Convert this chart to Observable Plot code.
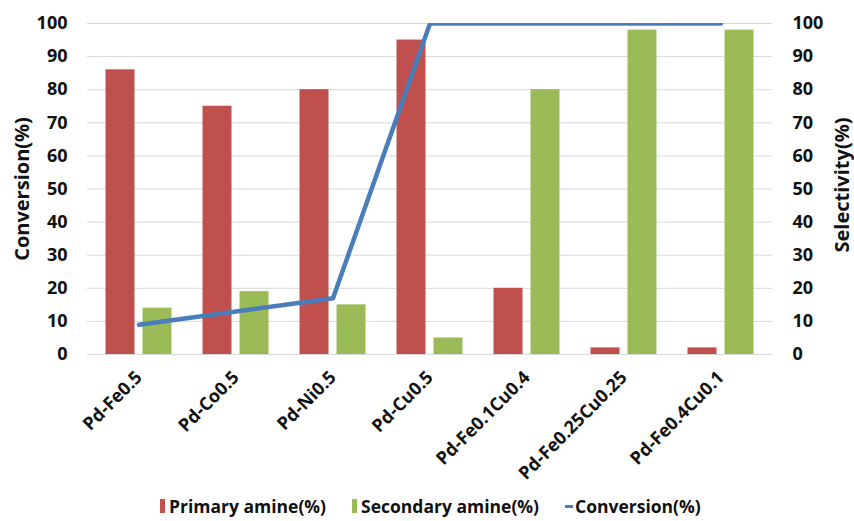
<!DOCTYPE html>
<html>
<head>
<meta charset="utf-8">
<script src="https://cdn.jsdelivr.net/npm/d3@7"></script>
<script src="https://cdn.jsdelivr.net/npm/@observablehq/plot@0.6"></script>
<style>
  body { margin: 0; background: #fff; }
  #chart { position: relative; width: 854px; height: 521px; font-family: "Open Sans", sans-serif; }
  .legend { position: absolute; top: 494px; left: 160px; display: flex; align-items: center; gap: 26px;
            font-weight: bold; font-size: 17.5px; color: #111; }
  .legend .item { display: flex; align-items: center; }
  .legend .bar { width: 5px; height: 14px; margin-right: 4px; }
  .legend .line { width: 8px; height: 3px; margin-right: 2px; }
</style>
</head>
<body>
<div id="chart"></div>
<script>
// Catalysts and their measured values (%)
const catalysts = ["Pd-Fe0.5", "Pd-Co0.5", "Pd-Ni0.5", "Pd-Cu0.5", "Pd-Fe0.1Cu0.4", "Pd-Fe0.25Cu0.25", "Pd-Fe0.4Cu0.1"];
const primaryAmine = [86, 75, 80, 95, 20, 2, 2];
const secondaryAmine = [14, 19, 15, 5, 80, 98, 98];
const conversion = [9, 13, 17, 100, 100, 100, 100];
const yTicks = [0, 10, 20, 30, 40, 50, 60, 70, 80, 90, 100];

const seriesNames = ["Primary amine(%)", "Secondary amine(%)", "Conversion(%)"];
const seriesColors = ["#C0504D", "#9BBB59", "#4A7EBB"];

const rows = catalysts.map((c, i) => ({
  catalyst: c,
  primary: primaryAmine[i],
  secondary: secondaryAmine[i],
  conversion: conversion[i]
}));

const chart = Plot.plot({
  width: 854,
  height: 521,
  marginLeft: 87,
  marginRight: 82,
  marginTop: 23,
  marginBottom: 167,
  style: { fontFamily: "'Open Sans', sans-serif", fontWeight: "bold", fontSize: "18px", color: "#111", background: "#fff" },
  x: { domain: catalysts, type: "band", padding: 0, label: null },
  y: { domain: [0, 100], label: null },
  marks: [
    Plot.gridY({ ticks: yTicks, stroke: "#D9D9D9", strokeOpacity: 1, strokeWidth: 1 }),
    Plot.barY(rows, { x: "catalyst", y: "primary", fill: seriesColors[0], insetLeft: 15.5, insetRight: 52.5 }),
    Plot.barY(rows, { x: "catalyst", y: "secondary", fill: seriesColors[1], insetLeft: 52.5, insetRight: 15.5 }),
    Plot.line(rows, { x: "catalyst", y: "conversion", stroke: seriesColors[2], strokeWidth: 4.5, clip: true }),
    Plot.axisY({ anchor: "left", ticks: yTicks, tickSize: 0, tickPadding: 20, label: null, fontSize: 18 }),
    Plot.axisY({ anchor: "right", ticks: yTicks, tickSize: 0, tickPadding: 20, label: null, fontSize: 18 }),
    Plot.axisX({ tickRotate: -45, tickSize: 0, tickPadding: 20, dx: 0, label: null, fontSize: 18 }),
    Plot.text(["Conversion(%)"], { frameAnchor: "left", textAnchor: "middle", rotate: -90, dx: -65, fontSize: 20, fontWeight: "bold" }),
    Plot.text(["Selectivity(%)"], { frameAnchor: "right", textAnchor: "middle", rotate: -90, dx: 70, dy: -4, fontSize: 20, fontWeight: "bold" })
  ]
});

const root = document.getElementById("chart");
root.appendChild(chart);

// Legend below the plot area
const legend = document.createElement("div");
legend.className = "legend";
seriesNames.forEach((name, i) => {
  const item = document.createElement("div");
  item.className = "item";
  const sw = document.createElement("span");
  sw.className = i < 2 ? "bar" : "line";
  sw.style.background = seriesColors[i];
  const label = document.createElement("span");
  label.textContent = name;
  item.append(sw, label);
  legend.appendChild(item);
});
root.appendChild(legend);
</script>
</body>
</html>
